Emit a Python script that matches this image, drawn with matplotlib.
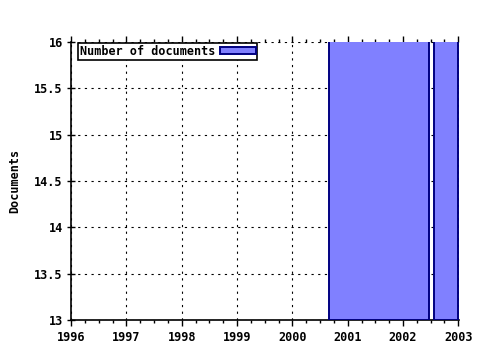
import matplotlib
matplotlib.use("Agg")
import matplotlib.pyplot as plt
from matplotlib.ticker import MultipleLocator

# data (bars run past the top of the axis)
bin_start = [2000.66, 2002.56]
bin_width = [1.81, 0.44]
documents = [20, 20]
x_ticks = [1996, 1997, 1998, 1999, 2000, 2001, 2002, 2003]
y_ticks = [13, 13.5, 14, 14.5, 15, 15.5, 16]
y_labels = ["13", "13.5", "14", "14.5", "15", "15.5", "16"]

plt.rcParams['font.family'] = ['DejaVu Sans Mono']
plt.rcParams['font.weight'] = 'bold'
plt.rcParams['font.size'] = 8.5

fig = plt.figure(figsize=(4.8, 3.5), dpi=100)
ax = fig.add_axes([0.148, 0.0857, 0.808, 0.794])

ax.bar(bin_start, [d - 13 for d in documents], width=bin_width, bottom=13,
       align='edge', color='#8080ff', edgecolor='#000080', linewidth=1.4,
       label='Number of documents', zorder=3)

ax.set_xlim(1996, 2003.01)
ax.set_ylim(13, 16)
ax.set_xticks(x_ticks)
ax.set_xticklabels([str(x) for x in x_ticks])
ax.set_yticks(y_ticks)
ax.set_yticklabels(y_labels)
ax.xaxis.set_minor_locator(MultipleLocator(0.25))

ax.grid(True, which='major', color='black', linestyle=(0, (2, 4)), linewidth=0.8)
ax.set_axisbelow(True)

ax.spines['top'].set_visible(False)
ax.spines['right'].set_visible(False)
ax.spines['left'].set_linewidth(1.2)
ax.spines['bottom'].set_linewidth(1.2)

ax.tick_params(axis='x', which='major', direction='out', length=4, width=1, top=True, pad=4)
ax.tick_params(axis='x', which='minor', direction='out', length=2.5, width=1, top=True)
ax.tick_params(axis='y', which='major', direction='inout', length=6, width=1, pad=3)
ax.tick_params(axis='y', which='minor', left=False)

ax.set_ylabel('Documents', fontsize=8.5, fontweight='bold', labelpad=9)

leg = ax.legend(loc='upper left', bbox_to_anchor=(0.016, 1.0), markerfirst=False,
                fancybox=False, edgecolor='black', framealpha=1, borderpad=0.15,
                handlelength=3.0, handleheight=0.55, handletextpad=0.4,
                borderaxespad=0.1, fontsize=8.5)
leg.get_frame().set_linewidth(1.2)

fig.savefig('out.png', dpi=100)
